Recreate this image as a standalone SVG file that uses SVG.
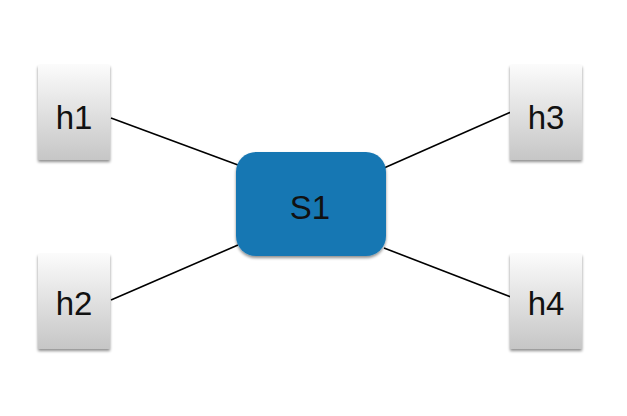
<svg xmlns="http://www.w3.org/2000/svg" width="627" height="416" viewBox="0 0 627 416">
<defs>
<linearGradient id="g" x1="0" y1="0" x2="0" y2="1">
<stop offset="0" stop-color="#fbfbfb"/>
<stop offset="1" stop-color="#c6c6c6"/>
</linearGradient>
<filter id="sh" x="-20%" y="-20%" width="140%" height="140%">
<feGaussianBlur in="SourceAlpha" stdDeviation="1.5"/>
<feOffset dy="2" result="b"/>
<feComponentTransfer><feFuncA type="linear" slope="0.45"/></feComponentTransfer>
<feMerge><feMergeNode/><feMergeNode in="SourceGraphic"/></feMerge>
</filter>
</defs>
<style>
.host{fill:url(#g);filter:url(#sh)}
.lbl{font-family:"Liberation Sans",Arial,sans-serif;font-size:33px;fill:#111;text-anchor:middle}
.edge{stroke:#000;stroke-width:1.6;fill:none}
</style>
<rect width="627" height="416" fill="#fff"/>
<g id="connectors">
<line class="edge" x1="111" y1="118" x2="238" y2="165"/>
<line class="edge" x1="111" y1="300" x2="238" y2="245"/>
<line class="edge" x1="384" y1="168" x2="511" y2="112"/>
<line class="edge" x1="384" y1="248" x2="511" y2="297"/>
</g>
<g id="h1"><rect class="host" x="38" y="65" width="72" height="95"/><text class="lbl" x="74" y="129">h1</text></g>
<g id="h2"><rect class="host" x="38" y="254" width="72" height="95"/><text class="lbl" x="74" y="315">h2</text></g>
<g id="h3"><rect class="host" x="510" y="65" width="72" height="95"/><text class="lbl" x="546" y="129">h3</text></g>
<g id="h4"><rect class="host" x="510" y="254" width="72" height="95"/><text class="lbl" x="546" y="315">h4</text></g>
<g id="S1"><rect x="236" y="152" width="150" height="104" rx="20" fill="#1777b3" filter="url(#sh)"/><text class="lbl" x="310" y="219">S1</text></g>
</svg>
